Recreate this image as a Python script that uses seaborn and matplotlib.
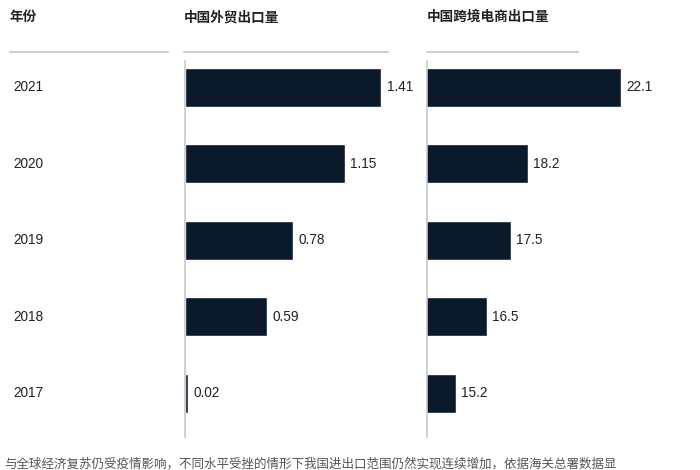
import matplotlib
matplotlib.use("Agg")
import matplotlib.pyplot as plt
import matplotlib.transforms as mtransforms
from matplotlib.lines import Line2D
import pandas as pd
import seaborn as sns

# data
years = ["2021", "2020", "2019", "2018", "2017"]
trade_export = [1.41, 1.15, 0.78, 0.59, 0.02]
ecommerce_export = [22.1, 18.2, 17.5, 16.5, 15.2]

header_year = "年份"
header_trade = "中国外贸出口量"
header_ecom = "中国跨境电商出口量"
footnote = ("与全球经济复苏仍受疫情影响，不同水平受挫的情形下我国进出口范围仍然实现连续增加，"
            "依据海关总署数据显")

BAR_COLOR = "#0b1a2b"
LINE_GRAY = "#cfcfcf"
W, H = 700, 470


def fx(px):
    return px / W


def fy(px):
    return 1 - px / H


def style_axis(ax, xlim):
    ax.set_xlim(*xlim)
    ax.set_ylim(4.575, -0.34)
    for side in ["top", "right", "bottom"]:
        ax.spines[side].set_visible(False)
    ax.spines["left"].set_color("#c8c8c8")
    ax.spines["left"].set_linewidth(1.2)
    ax.set_xticks([])
    ax.set_yticks([])
    ax.set_xlabel("")
    ax.set_ylabel("")
    ax.patch.set_alpha(0)


def main():
    sns.set_theme(style="white")
    plt.rcParams["font.family"] = ["Liberation Sans", "Noto Sans CJK SC", "DejaVu Sans"]

    df = pd.DataFrame({"year": years, "trade": trade_export, "ecom": ecommerce_export})

    fig = plt.figure(figsize=(7, 4.7), dpi=100)
    bottom, height = fy(437), fy(61) - fy(437)
    ax1 = fig.add_axes([fx(185), bottom, fx(390) - fx(185), height])
    ax2 = fig.add_axes([fx(427), bottom, fx(660) - fx(427), height])

    sns.barplot(data=df, x="trade", y="year", orient="h", color=BAR_COLOR,
                width=0.51, saturation=1, ax=ax1)
    sns.barplot(data=df, x="ecom", y="year", orient="h", color=BAR_COLOR,
                width=0.51, saturation=1, ax=ax2)

    style_axis(ax1, (0, 1.475))
    style_axis(ax2, (14, 23.73))

    ax1.bar_label(ax1.containers[0], fmt="%.2f", padding=4, fontsize=9.8, color="#222222")
    ax2.bar_label(ax2.containers[0], fmt="%.1f", padding=4, fontsize=9.8, color="#222222")

    # year labels on the far left, aligned to the bar rows
    trans = mtransforms.blended_transform_factory(fig.transFigure, ax1.transData)
    for i, yr in enumerate(years):
        fig.text(fx(13), i, yr, transform=trans, ha="left", va="center",
                 fontsize=9.8, color="#222222")

    # column headers
    for x, txt in [(10, header_year), (184, header_trade), (427, header_ecom)]:
        fig.text(fx(x), fy(17), txt, ha="left", va="center", fontsize=9.8,
                 fontweight="bold", color="#222222")

    # gray rules under the headers
    for x0, x1 in [(10, 168), (184, 388), (427, 578)]:
        fig.add_artist(Line2D([fx(x0), fx(x1)], [fy(52), fy(52)],
                              transform=fig.transFigure, color=LINE_GRAY, lw=1.6))

    fig.text(fx(4), fy(464), footnote, ha="left", va="center", fontsize=9.0,
             color="#555555")

    fig.savefig("out.png", dpi=100)
    plt.close(fig)


if __name__ == "__main__":
    main()
